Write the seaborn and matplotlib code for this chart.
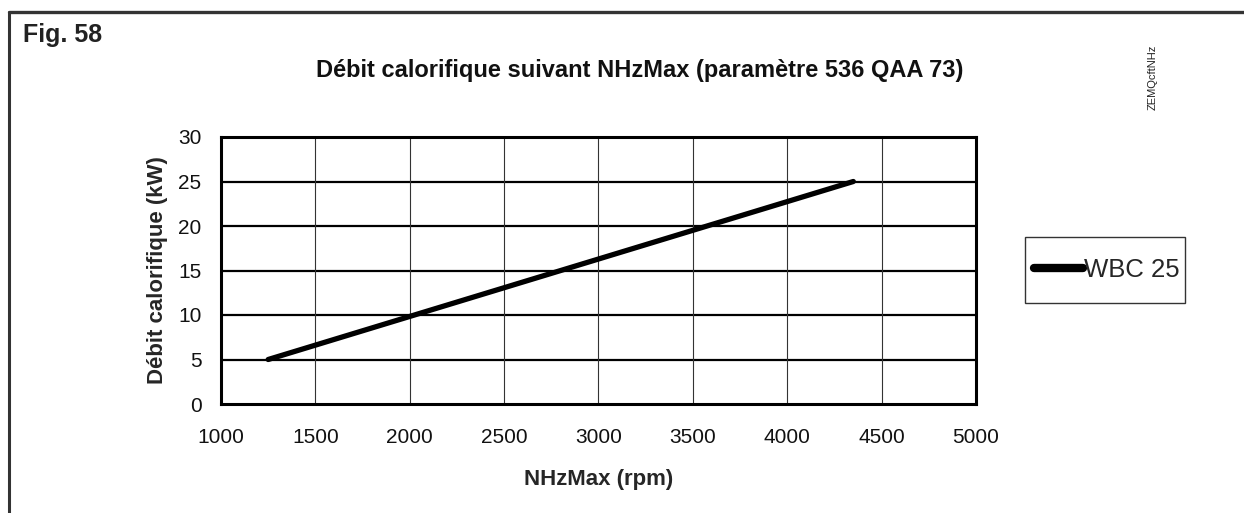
import matplotlib
matplotlib.use("Agg")
import matplotlib.pyplot as plt
from matplotlib.lines import Line2D
from matplotlib.patches import Rectangle
import seaborn as sns
import pandas as pd

# Heat output versus maximum fan speed
rpm = [1250, 4350]
power_kw = [5, 25]
series_name = "WBC 25"
x_ticks = [1000, 1500, 2000, 2500, 3000, 3500, 4000, 4500, 5000]
y_ticks = [0, 5, 10, 15, 20, 25, 30]

sns.set_style("white")
plt.rcParams["font.family"] = ["Liberation Sans", "DejaVu Sans"]

df = pd.DataFrame({"NHzMax (rpm)": rpm, "Débit calorifique (kW)": power_kw,
                   "serie": [series_name] * len(rpm)})

W, H = 1244, 513
fig = plt.figure(figsize=(W / 100, H / 100), dpi=100)
ax = fig.add_axes([221 / W, 1 - 404 / H, (976 - 221) / W, (404 - 137) / H])

sns.lineplot(data=df, x="NHzMax (rpm)", y="Débit calorifique (kW)", hue="serie",
             palette=["black"], linewidth=3.8, ax=ax, legend=False,
             solid_capstyle="round")

ax.set_xlim(1000, 5000)
ax.set_ylim(0, 30)
ax.set_xticks(x_ticks)
ax.set_yticks(y_ticks)
ax.tick_params(axis="both", length=0, labelsize=15, colors="#111111")
ax.tick_params(axis="y", pad=14)
ax.tick_params(axis="x", pad=17)

# grid: heavy horizontal lines, thin vertical lines
for y in y_ticks[1:-1]:
    ax.axhline(y, color="black", linewidth=1.6, zorder=1)
for x in x_ticks[1:-1]:
    ax.axvline(x, color="#333333", linewidth=0.8, zorder=1)

for s in ax.spines.values():
    s.set_visible(True)
    s.set_color("black")
    s.set_linewidth(2.2)

ax.set_xlabel("NHzMax (rpm)", fontsize=16, fontweight="bold", labelpad=16)
ax.set_ylabel("Débit calorifique (kW)", fontsize=16, fontweight="bold", labelpad=7)

# legend: tight frame drawn around the entry
fig.add_artist(Rectangle((1025 / W, 1 - 303 / H), 160 / W, 66 / H,
                         transform=fig.transFigure, fill=False,
                         edgecolor="#333333", linewidth=1.0))
handle = Line2D([], [], color="black", linewidth=6, solid_capstyle="round")
leg = fig.legend([handle], [series_name], loc="center left",
                 bbox_to_anchor=(1034 / W, 1 - 270 / H), frameon=False,
                 fontsize=18.5, handlelength=1.9, handletextpad=0.05,
                 borderpad=0, borderaxespad=0)

# figure texts
fig.text(23 / W, 1 - 35 / H, "Fig. 58", fontsize=18, fontweight="bold",
         va="center", ha="left", color="#222222")
fig.text(640 / W, 1 - 70 / H, "Débit calorifique suivant NHzMax (paramètre 536 QAA 73)",
         fontsize=17, fontweight="bold", ha="center", va="center", color="#111111")
fig.text(1153 / W, 1 - 77 / H, "ZEMQcftNHz", fontsize=8, rotation=90,
         ha="center", va="center", color="#222222")

# outer frame
fig.add_artist(Line2D([9 / W, 9 / W], [0, 1 - 12 / H], transform=fig.transFigure,
                      color="#333333", linewidth=2.2))
fig.add_artist(Line2D([9 / W, 1], [1 - 12 / H, 1 - 12 / H], transform=fig.transFigure,
                      color="#333333", linewidth=2.4))

fig.savefig("out.png", dpi=100)
